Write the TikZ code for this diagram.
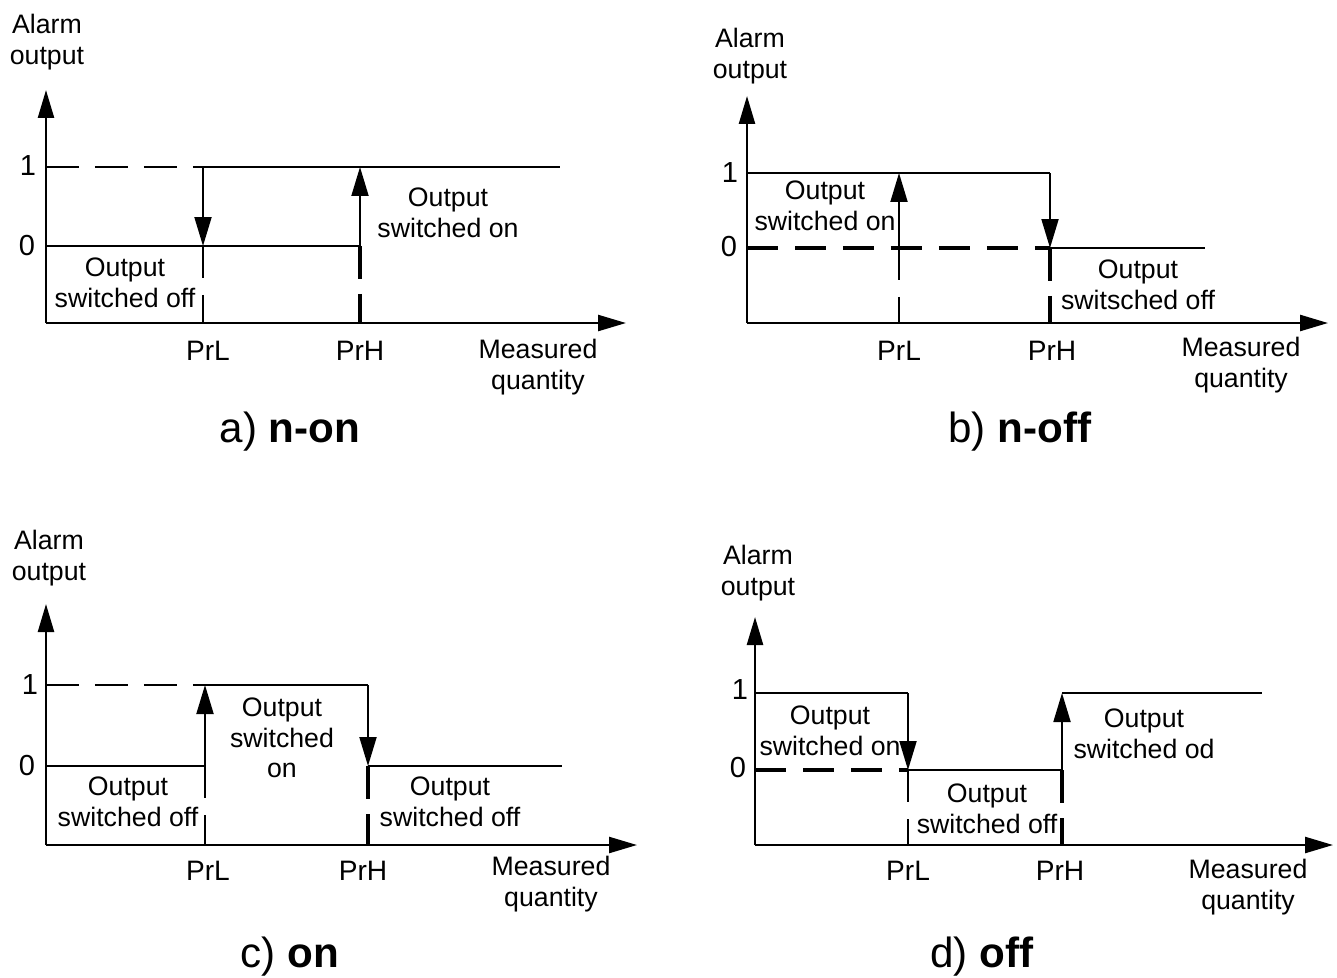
\documentclass[tikz,border=0pt]{standalone}
\usepackage{fontspec}
\setmainfont{Liberation Sans}
\usetikzlibrary{arrows.meta}

\begin{document}
\begin{tikzpicture}[
        x=0.02cm, y=-0.02cm,
        lbl/.style={font=\fontsize{15.2}{17.4}\selectfont, align=center, inner sep=0pt},
        numlbl/.style={font=\fontsize{16.5}{19}\selectfont, inner sep=0pt},
        prlbl/.style={font=\fontsize{16}{19}\selectfont, inner sep=0pt},
        paneltitle/.style={font=\fontsize{24}{28}\selectfont, inner sep=0pt},
        axisline/.style={line width=1.4pt, -{Triangle[length=0.56cm, width=0.32cm]}},
        lvl/.style={line width=1.1pt},
        lvlold/.style={line width=1.1pt, dash pattern=on 0.66cm off 0.32cm},
        zeroold/.style={line width=2pt, dash pattern=on 0.62cm off 0.34cm},
        sw/.style={line width=1.1pt, -{Triangle[length=0.58cm, width=0.34cm]}},
        lomark/.style={line width=0.9pt, dash pattern=on 0.64cm off 0.34cm on 2cm},
        lomarktop/.style={line width=1.6pt, dash pattern=on 0.64cm off 3cm},
        himark/.style={line width=2.4pt, dash pattern=on 0.66cm off 0.3cm on 2cm}
    ]
    \useasboundingbox (0,0) rectangle (1337,977);

    % a) n-on
    \coordinate (a-o) at (46,323);
    \coordinate (a-ytip) at (46,90);
    \coordinate (a-xtip) at (626,323);
    \coordinate (a-o1) at (46,167);
    \coordinate (a-o0) at (46,246);
    \coordinate (a-l1) at (203,167);
    \coordinate (a-l0) at (203,246);
    \coordinate (a-lx) at (203,323);
    \coordinate (a-h1) at (360,167);
    \coordinate (a-h0) at (360,246);
    \coordinate (a-hx) at (360,323);
    \coordinate (a-end1) at (560,167);

    \draw[axisline] (a-o) -- (a-ytip);
    \draw[axisline] (a-o) -- (a-xtip);
    \draw[lvlold] (a-o1) -- (a-l1);
    \draw[lvl] (a-l1) -- (a-end1);
    \draw[lvl] (a-o0) -- (a-h0);
    \draw[sw] (a-l1) -- (a-l0);
    \draw[sw] (a-h0) -- (a-h1);
    \draw[lomark] (a-l0) -- (a-lx);
    \draw[lomarktop] (a-l0) -- (a-lx);
    \draw[himark] (a-h0) -- (a-hx);

    \node[lbl] (a-alarm) at (47,42) {Alarm\\output};
    \node[numlbl] (a-one) at (28,166) {1};
    \node[numlbl] (a-zero) at (27,246) {0};
    \node[lbl] (a-on) at (448,213) {Output\\switched on};
    \node[lbl] (a-off) at (125,283) {Output\\switched off};
    \node[prlbl] (a-prl) at (208,351) {PrL};
    \node[prlbl] (a-prh) at (360,351) {PrH};
    \node[lbl] (a-meas) at (538,367) {Measured\\quantity};
    \node[paneltitle] (a-title) at (290,432) {a) \textbf{n-on}};

    % b) n-off
    \coordinate (b-o) at (747,323);
    \coordinate (b-ytip) at (747,96);
    \coordinate (b-xtip) at (1328,323);
    \coordinate (b-o1) at (747,173);
    \coordinate (b-o0) at (747,248);
    \coordinate (b-l1) at (899,173);
    \coordinate (b-l0) at (899,248);
    \coordinate (b-lx) at (899,323);
    \coordinate (b-h1) at (1050,173);
    \coordinate (b-h0) at (1050,248);
    \coordinate (b-hx) at (1050,323);
    \coordinate (b-end0) at (1205,248);

    \draw[axisline] (b-o) -- (b-ytip);
    \draw[axisline] (b-o) -- (b-xtip);
    \draw[lvl] (b-o1) -- (b-h1);
    \draw[zeroold] (b-o0) -- (b-h0);
    \draw[lvl] (b-h0) -- (b-end0);
    \draw[sw] (b-h1) -- (b-h0);
    \draw[sw] (b-l0) -- (b-l1);
    \draw[lomark] (b-l0) -- (b-lx);
    \draw[lomarktop] (b-l0) -- (b-lx);
    \draw[himark] (b-h0) -- (b-hx);

    \node[lbl] (b-alarm) at (750,56) {Alarm\\output};
    \node[numlbl] (b-one) at (730,173) {1};
    \node[numlbl] (b-zero) at (729,247) {0};
    \node[lbl] (b-on) at (825,206) {Output\\switched on};
    \node[lbl] (b-off) at (1138,285) {Output\\switsched off};
    \node[prlbl] (b-prl) at (899,351) {PrL};
    \node[prlbl] (b-prh) at (1052,351) {PrH};
    \node[lbl] (b-meas) at (1241,365) {Measured\\quantity};
    \node[paneltitle] (b-title) at (1020,432) {b) \textbf{n-off}};

    % c) on
    \coordinate (c-o) at (46,845);
    \coordinate (c-ytip) at (46,604);
    \coordinate (c-xtip) at (637,845);
    \coordinate (c-o1) at (46,685);
    \coordinate (c-o0) at (46,766);
    \coordinate (c-l1) at (205,685);
    \coordinate (c-l0) at (205,766);
    \coordinate (c-lx) at (205,845);
    \coordinate (c-h1) at (368,685);
    \coordinate (c-h0) at (368,766);
    \coordinate (c-hx) at (368,845);
    \coordinate (c-end0) at (562,766);

    \draw[axisline] (c-o) -- (c-ytip);
    \draw[axisline] (c-o) -- (c-xtip);
    \draw[lvlold] (c-o1) -- (c-l1);
    \draw[lvl] (c-l1) -- (c-h1);
    \draw[lvl] (c-o0) -- (c-l0);
    \draw[lvl] (c-h0) -- (c-end0);
    \draw[sw] (c-l0) -- (c-l1);
    \draw[sw] (c-h1) -- (c-h0);
    \draw[lomark] (c-l0) -- (c-lx);
    \draw[lomarktop] (c-l0) -- (c-lx);
    \draw[himark] (c-h0) -- (c-hx);

    \node[lbl] (c-alarm) at (49,558) {Alarm\\output};
    \node[numlbl] (c-one) at (30,685) {1};
    \node[numlbl] (c-zero) at (27,766) {0};
    \node[lbl] (c-offl) at (128,802) {Output\\switched off};
    \node[lbl] (c-on) at (282,738) {Output\\switched\\on};
    \node[lbl] (c-offr) at (450,802) {Output\\switched off};
    \node[prlbl] (c-prl) at (208,871) {PrL};
    \node[prlbl] (c-prh) at (363,871) {PrH};
    \node[lbl] (c-meas) at (551,884) {Measured\\quantity};
    \node[paneltitle] (c-title) at (290,957) {c) \textbf{on}};

    % d) off
    \coordinate (d-o) at (755,845);
    \coordinate (d-ytip) at (755,617);
    \coordinate (d-xtip) at (1333,845);
    \coordinate (d-o1) at (755,693);
    \coordinate (d-o0) at (755,770);
    \coordinate (d-l1) at (908,693);
    \coordinate (d-l0) at (908,770);
    \coordinate (d-lx) at (908,845);
    \coordinate (d-h1) at (1062,693);
    \coordinate (d-h0) at (1062,770);
    \coordinate (d-hx) at (1062,845);
    \coordinate (d-end1) at (1262,693);

    \draw[axisline] (d-o) -- (d-ytip);
    \draw[axisline] (d-o) -- (d-xtip);
    \draw[lvl] (d-o1) -- (d-l1);
    \draw[zeroold] (d-o0) -- (d-l0);
    \draw[lvl] (d-l0) -- (d-h0);
    \draw[lvl] (d-h1) -- (d-end1);
    \draw[sw] (d-l1) -- (d-l0);
    \draw[sw] (d-h0) -- (d-h1);
    \draw[lomark] (d-l0) -- (d-lx);
    \draw[lomarktop] (d-l0) -- (d-lx);
    \draw[himark] (d-h0) -- (d-hx);

    \node[lbl] (d-alarm) at (758,573) {Alarm\\output};
    \node[numlbl] (d-one) at (740,690) {1};
    \node[numlbl] (d-zero) at (738,768) {0};
    \node[lbl] (d-on) at (830,731) {Output\\switched on};
    \node[lbl] (d-od) at (1144,734) {Output\\switched od};
    \node[lbl] (d-off) at (987,809) {Output\\switched off};
    \node[prlbl] (d-prl) at (908,871) {PrL};
    \node[prlbl] (d-prh) at (1060,871) {PrH};
    \node[lbl] (d-meas) at (1248,887) {Measured\\quantity};
    \node[paneltitle] (d-title) at (982,957) {d) \textbf{off}};
\end{tikzpicture}
\end{document}
